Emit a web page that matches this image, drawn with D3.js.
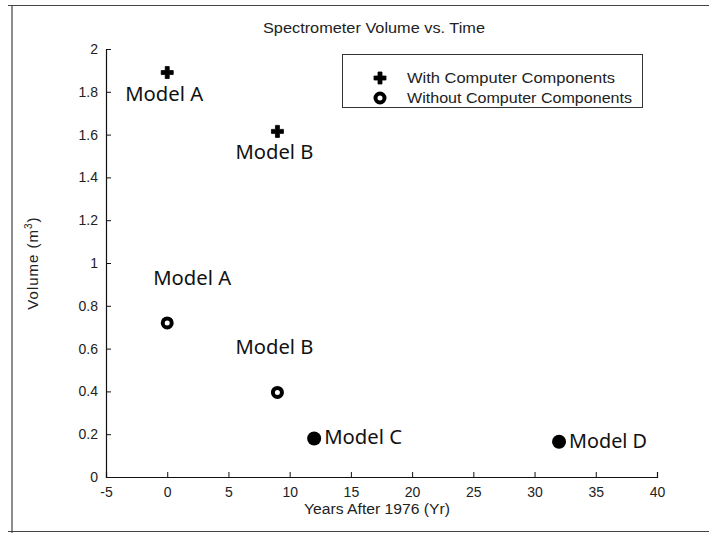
<!DOCTYPE html>
<html>
<head>
<meta charset="utf-8">
<script src="https://cdn.jsdelivr.net/npm/d3@7"></script>
<style>
  html, body { margin: 0; padding: 0; background: #fff; }
  svg { display: block; }
  .tick text { font-family: "Liberation Sans", Arial, sans-serif; font-size: 14px; fill: #222; }
</style>
</head>
<body>
<svg id="chart" width="710" height="533"></svg>
<script>
// Spectrometer models: year offset from 1976 and volume in cubic metres
const withComputer = [
  { name: "Model A", year: 0, volume: 1.89 },
  { name: "Model B", year: 9, volume: 1.615 }
];
const withoutComputer = [
  { name: "Model A", year: 0, volume: 0.72 },
  { name: "Model B", year: 9, volume: 0.395 }
];
const laterModels = [
  { name: "Model C", year: 12, volume: 0.18 },
  { name: "Model D", year: 32, volume: 0.165 }
];
const xTicks = [-5, 0, 5, 10, 15, 20, 25, 30, 35, 40];
const yTicks = [0, 0.2, 0.4, 0.6, 0.8, 1, 1.2, 1.4, 1.6, 1.8, 2];
const legendLabels = ["With Computer Components", "Without Computer Components"];

const svg = d3.select("#chart");
const plot = { left: 106, right: 657, top: 49, bottom: 477 };

const x = d3.scaleLinear().domain([-5, 40]).range([plot.left, plot.right]);
const y = d3.scaleLinear().domain([0, 2]).range([plot.bottom, plot.top]);

// page frame
const frame = svg.append("g").attr("stroke", "#444").attr("stroke-width", 1.2).attr("fill", "none");
frame.append("line").attr("x1", 8).attr("x2", 709).attr("y1", 5.5).attr("y2", 5.5);
frame.append("line").attr("x1", 12).attr("x2", 12).attr("y1", 5).attr("y2", 533);
frame.append("line").attr("x1", 8).attr("x2", 709).attr("y1", 531.5).attr("y2", 531.5);

// axes with inward ticks; plain hyphen for negatives
const xAxis = d3.axisBottom(x).tickValues(xTicks).tickSize(-5).tickPadding(8)
  .tickFormat(d => String(d));
const yAxis = d3.axisLeft(y).tickValues(yTicks).tickSize(-5).tickPadding(8)
  .tickFormat(d => String(+d.toFixed(1)));

const gx = svg.append("g").attr("transform", `translate(0,${plot.bottom})`).call(xAxis);
const gy = svg.append("g").attr("transform", `translate(${plot.left},0)`).call(yAxis);
[gx, gy].forEach(g => {
  g.select(".domain").attr("stroke", "#111").attr("stroke-width", 1.2);
  g.selectAll(".tick line").attr("stroke", "#111");
});
gx.selectAll(".tick text").attr("dy", "0.85em");

// title and axis labels
const axisFont = "Liberation Sans, Arial, sans-serif";
svg.append("text")
  .attr("x", 374).attr("y", 33)
  .attr("text-anchor", "middle")
  .attr("font-family", axisFont)
  .attr("font-size", 14).attr("fill", "#222")
  .attr("textLength", 222).attr("lengthAdjust", "spacingAndGlyphs")
  .text("Spectrometer Volume vs. Time");

svg.append("text")
  .attr("x", 377).attr("y", 514)
  .attr("text-anchor", "middle")
  .attr("font-family", axisFont)
  .attr("font-size", 14).attr("fill", "#222")
  .attr("textLength", 146).attr("lengthAdjust", "spacingAndGlyphs")
  .text("Years After 1976 (Yr)");

const yLabel = svg.append("text")
  .attr("transform", `translate(38,${263}) rotate(-90)`)
  .attr("text-anchor", "middle")
  .attr("font-family", axisFont)
  .attr("font-size", 15).attr("fill", "#222")
  .attr("letter-spacing", 1);
yLabel.append("tspan").text("Volume (m");
yLabel.append("tspan").attr("font-size", 10).attr("dy", -6).text("3");
yLabel.append("tspan").attr("dy", 6).text(")");

// marker drawers
const crossPath = d3.symbol(d3.symbolCross).size(80)();
function drawCross(g, cx, cy) {
  g.append("path").attr("d", crossPath)
    .attr("transform", `translate(${cx},${cy})`)
    .attr("fill", "#000").attr("stroke", "#000")
    .attr("stroke-width", 0.8).attr("stroke-linejoin", "round");
}
function drawRing(g, cx, cy) {
  g.append("circle").attr("cx", cx).attr("cy", cy).attr("r", 4.5)
    .attr("fill", "#fff").attr("stroke", "#000").attr("stroke-width", 4);
}
function drawDot(g, cx, cy) {
  g.append("circle").attr("cx", cx).attr("cy", cy).attr("r", 7).attr("fill", "#000");
}

const marks = svg.append("g");
withComputer.forEach(d => drawCross(marks, x(d.year), y(d.volume)));
withoutComputer.forEach(d => drawRing(marks, x(d.year), y(d.volume)));
laterModels.forEach(d => drawDot(marks, x(d.year), y(d.volume)));

// model annotations, placed relative to their markers
const labelFont = "Noto Sans, Open Sans, sans-serif";
function modelLabel(text, lx, ly, anchor) {
  svg.append("text")
    .attr("x", lx).attr("y", ly)
    .attr("text-anchor", anchor)
    .attr("font-family", labelFont)
    .attr("font-size", 19).attr("fill", "#111")
    .attr("textLength", 78).attr("lengthAdjust", "spacingAndGlyphs")
    .text(text);
}
withComputer.forEach(d => modelLabel(d.name, x(d.year) - 3, y(d.volume) + 28, "middle"));
const ringLabelShift = [25, -3];
withoutComputer.forEach((d, i) => modelLabel(d.name, x(d.year) + ringLabelShift[i], y(d.volume) - 38, "middle"));
laterModels.forEach(d => modelLabel(d.name, x(d.year) + 10, y(d.volume) + 6, "start"));

// legend
const legend = svg.append("g");
legend.append("rect")
  .attr("x", 342.5).attr("y", 54.5).attr("width", 300).attr("height", 53)
  .attr("fill", "#fff").attr("stroke", "#333").attr("stroke-width", 1);
const legendRows = [78, 98];
drawCross(legend, 380, legendRows[0]);
drawRing(legend, 380, legendRows[1]);
const legendWidths = [208, 225];
legendLabels.forEach((t, i) => {
  legend.append("text")
    .attr("x", 407).attr("y", legendRows[i] + 5)
    .attr("font-family", axisFont)
    .attr("font-size", 14).attr("fill", "#222")
    .attr("textLength", legendWidths[i]).attr("lengthAdjust", "spacingAndGlyphs")
    .text(t);
});
</script>
</body>
</html>
